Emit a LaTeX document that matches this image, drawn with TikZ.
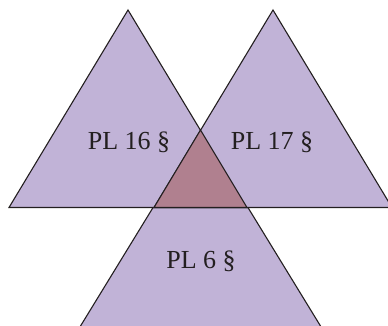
\documentclass[tikz,border=0pt]{standalone}
\usepackage{fontspec}
\setmainfont{Liberation Serif}
\definecolor{lightpurple}{RGB}{193,179,215}
\definecolor{mauve}{RGB}{176,128,143}
\definecolor{edge}{RGB}{35,31,32}
\begin{document}
\begin{tikzpicture}[x=1pt,y=-1pt,
  tri/.style={fill=lightpurple,draw=edge,line width=1.1pt,line join=miter},
  core/.style={fill=mauve,draw=edge,line width=1.1pt},
  lbl/.style={font=\fontsize{26}{29}\selectfont,text=edge,inner sep=0pt}]
\useasboundingbox (0,0) rectangle (388,325);
\clip (0,0) rectangle (388,325);
% vertices
\coordinate (LA) at (128,10);
\coordinate (LL) at (9,207.5);
\coordinate (LR) at (247,207.5);
\coordinate (RA) at (273,10);
\coordinate (RL) at (154,207.5);
\coordinate (RR) at (392,207.5);
\coordinate (BA) at (200.5,130);
\coordinate (BL) at (75,335);
\coordinate (BR) at (326,335);
% bottom triangle
\draw[tri] (BA) -- (BR) -- (BL) -- cycle;
% left and right triangles
\draw[tri] (LA) -- (LR) -- (LL) -- cycle;
\draw[tri] (RA) -- (RR) -- (RL) -- cycle;
% common part
\draw[core] (BA) -- (LR) -- (RL) -- cycle;
% labels
\node[lbl] (t16) at (129,142) {PL 16 §};
\node[lbl] (t17) at (272,142) {PL 17 §};
\node[lbl] (t6) at (201,261) {PL 6 §};
\end{tikzpicture}
\end{document}
